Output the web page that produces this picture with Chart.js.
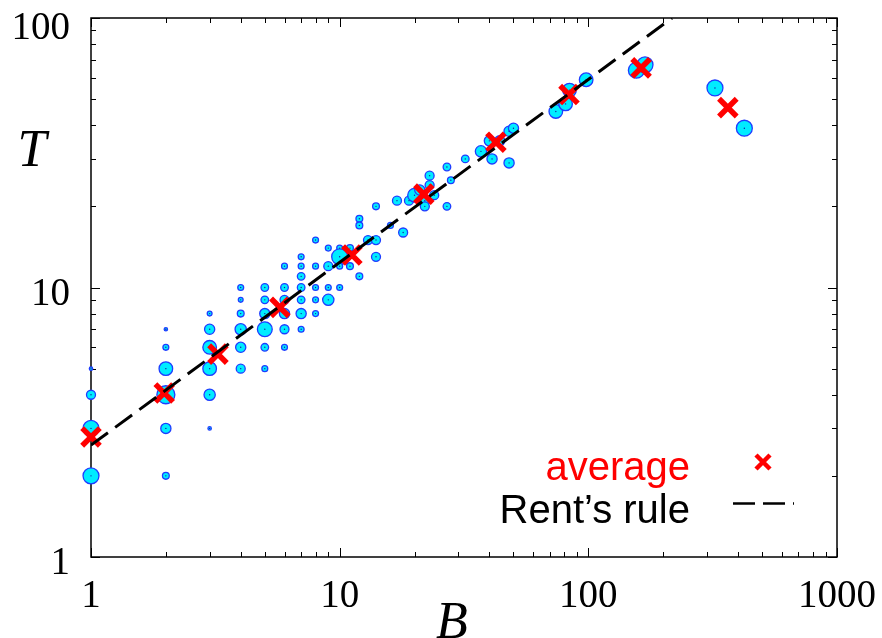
<!DOCTYPE html>
<html><head><meta charset="utf-8">
<script src="https://cdn.jsdelivr.net/npm/chart.js@4.4.0/dist/chart.umd.min.js"></script>
<style>html,body{margin:0;padding:0;background:#fff;overflow:hidden}</style>
</head><body>
<canvas id="c" width="882" height="638"></canvas>
<script>
// ---- data ----
const pointB = [
  1,1,1,1,
  2,2,2,2,2,2,
  3,3,3,3,3,3,
  4,4,4,4,4,4,
  5,5,5,5,5,5,
  6,6,6,6,6,6,
  7,7,7,7,7,7,7,
  8,8,8,8,8,
  9,9,9,9,
  10,10,10,10,
  11,11,
  12,12,12,
  13,
  14,14,14,
  16,17,18,19,20,21,22,22,23,23,24,27,27,28,32,37,40,41,44,48,48,50,
  74,81,84,98,156,169,323,424
];
const pointT = [
  5,4,3,2,
  7,6,5,4,3,2,
  8,7,6,5,4,3,
  10,9,8,7,6,5,
  10,9,8,7,6,5,
  12,10,9,8,7,6,
  13,12,11,10,9,8,7,
  15,12,10,9,8,
  14,12,10,9,
  14,13,12,10,
  14,12,
  18,17,11,
  15,
  20,15,13,
  17,21,16,21,22,23,21,20,26,24,22,28,20,25,30,32,35,30,35,29,38,39,
  45,48,54,59,64,67,55,39
];
const pointCount = [
  1,7,22,22,
  1,3,16,28,9,4,
  2,9,16,16,11,1,
  3,2,4,11,9,7,
  5,5,9,19,5,3,
  3,5,7,9,7,3,
  3,3,5,5,5,9,3,
  3,3,3,3,3,
  3,7,3,11,
  3,22,3,3,
  4,4,
  4,4,4,
  7,
  4,7,7,
  3,7,7,7,16,9,9,7,7,7,7,5,5,4,5,11,9,9,9,9,9,9,
  16,16,16,16,22,22,22,22
];
const avgB = [1, 1.97, 3.24, 5.75, 11.2, 21.8, 42.5, 83.6, 163, 364];
const avgT = [2.79, 4.06, 5.66, 8.44, 13.2, 22.2, 34.6, 52, 65.3, 46.5];
const rentB = [1, 217];
const rentT = [2.6, 100];
const xTickLabels = ['1', '10', '100', '1000'];
const yTickLabels = ['1', '10', '100'];
const xTitle = 'B';
const yTitle = 'T';
const legendLabels = ['average', 'Rent\u2019s rule'];

// ---- build ----
const pts = pointB.map((b, i) => ({x: b, y: pointT[i]}));
const avgPts = avgB.map((b, i) => ({x: b, y: avgT[i]}));
const rentPts = rentB.map((b, i) => ({x: b, y: rentT[i]}));

const framePlugin = {
  id: 'frame',
  beforeDatasetsDraw(chart) {
    const {ctx, chartArea: a, scales: {x, y}} = chart;
    ctx.save();
    ctx.strokeStyle = '#000';
    ctx.lineWidth = 1.5;
    ctx.strokeRect(a.left, a.top, a.right - a.left, a.bottom - a.top);
    ctx.lineWidth = 1;
    for (let d = 1; d <= 1000; d *= 10) {
      for (let m = 1; m <= 9; m++) {
        const v = d * m;
        if (v > 1000) break;
        const px = Math.round(x.getPixelForValue(v)) + 0.5;
        const len = m === 1 ? 9 : 5;
        ctx.beginPath();
        ctx.moveTo(px, a.bottom); ctx.lineTo(px, a.bottom - len);
        ctx.moveTo(px, a.top); ctx.lineTo(px, a.top + len);
        ctx.stroke();
      }
    }
    for (let d = 1; d <= 100; d *= 10) {
      for (let m = 1; m <= 9; m++) {
        const v = d * m;
        if (v > 100) break;
        const py = Math.round(y.getPixelForValue(v)) + 0.5;
        const len = m === 1 ? 9 : 5;
        ctx.beginPath();
        ctx.moveTo(a.left, py); ctx.lineTo(a.left + len, py);
        ctx.moveTo(a.right, py); ctx.lineTo(a.right - len, py);
        ctx.stroke();
      }
    }
    ctx.restore();
  },
  afterDraw(chart) {
    const {ctx, scales: {x, y}} = chart;
    ctx.save();
    ctx.fillStyle = '#000';
    ctx.font = '39px "Liberation Serif", "Times New Roman", serif';
    ctx.textBaseline = 'alphabetic';
    ctx.textAlign = 'center';
    xTickLabels.forEach(t => {
      ctx.fillText(t, x.getPixelForValue(parseFloat(t)), 607);
    });
    ctx.textAlign = 'right';
    yTickLabels.forEach(t => {
      const py = y.getPixelForValue(parseFloat(t));
      ctx.fillText(t, 70, Math.max(py + 17, 39));
    });
    ctx.font = 'italic 52px "Liberation Serif", "Times New Roman", serif';
    ctx.textAlign = 'center';
    ctx.fillText(xTitle, 452, 638);
    ctx.fillText(yTitle, 32, 166);
    // legend
    ctx.font = '40px "Liberation Sans", Arial, sans-serif';
    ctx.textAlign = 'right';
    ctx.fillStyle = '#ff0000';
    ctx.fillText(legendLabels[0], 690, 480);
    ctx.fillStyle = '#000';
    ctx.fillText(legendLabels[1], 690, 523);
    ctx.strokeStyle = '#ff0000';
    ctx.lineWidth = 4.5;
    ctx.beginPath();
    ctx.moveTo(756, 455); ctx.lineTo(770, 469);
    ctx.moveTo(770, 455); ctx.lineTo(756, 469);
    ctx.stroke();
    ctx.strokeStyle = '#000';
    ctx.lineWidth = 2.5;
    ctx.setLineDash([22, 8]);
    ctx.beginPath();
    ctx.moveTo(733, 503.5); ctx.lineTo(794, 503.5);
    ctx.stroke();
    ctx.restore();
  }
};

new Chart(document.getElementById('c'), {
  type: 'scatter',
  data: {
    datasets: [
      {
        type: 'line', data: rentPts, borderColor: '#000', borderWidth: 3,
        borderDash: [21, 9], pointRadius: 0, fill: false, showLine: true
      },
      {
        data: avgPts, pointStyle: 'crossRot', pointRadius: 12.5, borderWidth: 5.5,
        borderColor: '#ff0000', backgroundColor: '#ff0000', clip: false
      },
      {
        data: pts, pointRadius: 0.7, borderWidth: 0,
        backgroundColor: '#1a1aa0', clip: false
      },
      {
        data: pts,
        pointRadius: c => 1.7 * Math.sqrt(pointCount[c.dataIndex]),
        borderWidth: 1.3, borderColor: 'rgb(30,60,255)',
        backgroundColor: 'rgb(0,236,255)', clip: false
      }
    ]
  },
  options: {
    responsive: false,
    animation: false,
    events: [],
    layout: {padding: {left: 91, right: 45, top: 15, bottom: 81}},
    plugins: {legend: {display: false}, tooltip: {enabled: false}},
    scales: {
      x: {type: 'logarithmic', min: 1, max: 1000, display: false},
      y: {type: 'logarithmic', min: 1, max: 100, display: false}
    }
  },
  plugins: [framePlugin]
});
</script>
</body></html>
